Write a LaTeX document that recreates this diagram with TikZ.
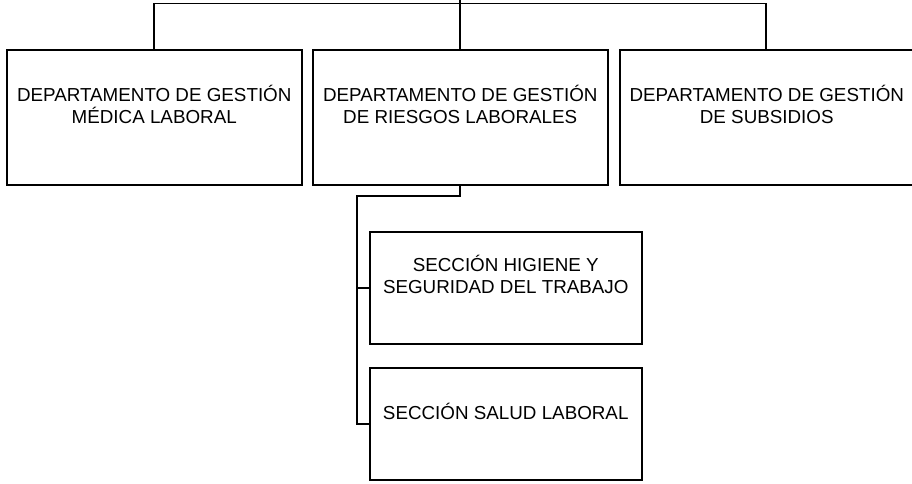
\documentclass[tikz,border=0pt]{standalone}
\usepackage{fontspec}
\setmainfont{Liberation Sans}
\begin{document}
\begin{tikzpicture}[x=1pt,y=-1pt,
  box/.style={draw, line width=1.5pt, rectangle, inner sep=0pt, anchor=north west},
  dept/.style={box, minimum width=295pt, minimum height=135pt},
  sect/.style={box, minimum width=272pt, minimum height=112pt},
  lbl/.style={inner sep=0pt, align=center, font=\fontsize{18.8}{22}\selectfont},
  conn/.style={line width=1.5pt, line cap=rect}]
\useasboundingbox (0,0) rectangle (912,483);
\clip (0,0) rectangle (912,483);
\node[dept] (b1) at (6,49) {};
\node[dept] (b2) at (312,49) {};
\node[dept, minimum width=294pt] (b3) at (619,49) {};
\node[sect] (b4) at (369,231) {};
\node[sect] (b5) at (369,367) {};
\node[lbl] (l1) at ([yshift=12.5pt]b1.center) {DEPARTAMENTO DE GESTIÓN\\MÉDICA LABORAL};
\node[lbl] (l2) at ([yshift=12.5pt]b2.center) {DEPARTAMENTO DE GESTIÓN\\DE RIESGOS LABORALES};
\node[lbl] (l3) at ([yshift=12.5pt]b3.center) {DEPARTAMENTO DE GESTIÓN\\DE SUBSIDIOS};
\node[lbl] (l4) at ([yshift=13pt]b4.center) {SECCIÓN HIGIENE Y\\SEGURIDAD DEL TRABAJO};
\node[lbl] (l5) at ([yshift=12.5pt]b5.center) {SECCIÓN SALUD LABORAL};
\coordinate (root) at (460,-5);
\coordinate (hl) at (154,3.5);
\coordinate (hr) at (766,3.5);
\coordinate (bus) at (357,196);
\draw[conn] (root) -- (root |- b2.north);
\draw[conn] (hl |- b1.north) -- (hl) -- (hr) -- (hr |- b3.north);
\draw[conn] (b2.south -| root) -- (bus -| root) -- (bus) -- (bus |- b5.west) -- (b5.west);
\draw[conn] (bus |- b4.west) -- (b4.west);
\end{tikzpicture}
\end{document}
